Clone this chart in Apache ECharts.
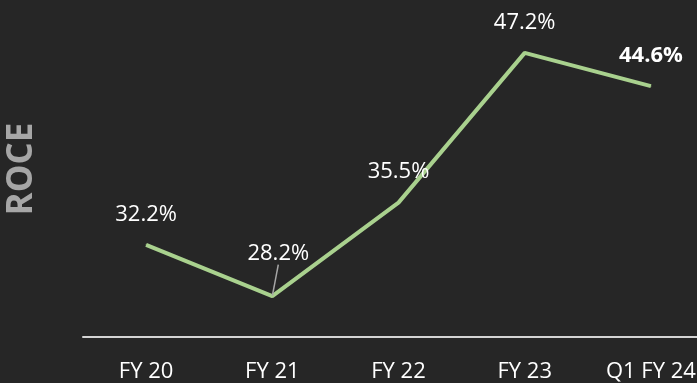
<!DOCTYPE html>
<html>
<head>
<meta charset="utf-8">
<style>
  html, body { margin: 0; padding: 0; background: #262626; }
  #chart { width: 697px; height: 383px; }
</style>
<script src="https://cdn.jsdelivr.net/npm/echarts@6/dist/echarts.min.js"></script>
</head>
<body>
<div id="chart"></div>
<script>
// ROCE by fiscal period (%)
const periods = ['FY 20', 'FY 21', 'FY 22', 'FY 23', 'Q1 FY 24'];
const roce = [32.2, 28.2, 35.5, 47.2, 44.6];
const yTitle = 'ROCE';

const FONT = '"Open Sans", "Noto Sans", sans-serif';

const data = roce.map((v, i) => {
  const item = { value: v };
  if (i === periods.length - 1) {
    item.label = { fontWeight: 'bold' };
  }
  if (i === 1) {
    // FY 21 label sits off to the side with a short leader line
    item.label = { distance: 0 };
    item.labelLine = { show: true, lineStyle: { color: '#a6a6a6', width: 1.5 } };
  }
  return item;
});

const chart = echarts.init(document.getElementById('chart'), null, { renderer: 'canvas' });
chart.setOption({
  backgroundColor: '#262626',
  animation: false,
  grid: { left: 83, width: 631, top: 17, bottom: 46, outerBoundsMode: 'none' },
  xAxis: {
    type: 'category',
    data: periods,
    boundaryGap: true,
    axisLine: { lineStyle: { color: '#d4d4d4', width: 2 } },
    axisTick: { show: false },
    axisLabel: { color: '#ffffff', fontFamily: FONT, fontSize: 22, margin: 24 }
  },
  yAxis: {
    type: 'value',
    min: 25,
    max: 50,
    show: false
  },
  graphic: [{
    type: 'text',
    x: 22,
    y: 169,
    rotation: Math.PI / 2,
    style: {
      text: yTitle,
      fill: '#a6a6a6',
      font: 'bold 35px ' + FONT,
      textAlign: 'center',
      textVerticalAlign: 'middle'
    }
  }],
  series: [{
    type: 'line',
    data: data,
    symbol: 'circle',
    symbolSize: 1,
    itemStyle: { color: '#a9d18e' },
    lineStyle: { color: '#a9d18e', width: 4 },
    label: {
      show: true,
      position: 'top',
      distance: 19,
      color: '#ffffff',
      fontFamily: FONT,
      fontSize: 22,
      formatter: p => p.value.toFixed(1) + '%'
    },
    labelLayout: function (params) {
      if (params.dataIndex === 1) {
        return { dx: 6, dy: -31 };
      }
      return {};
    }
  }]
});
</script>
</body>
</html>
